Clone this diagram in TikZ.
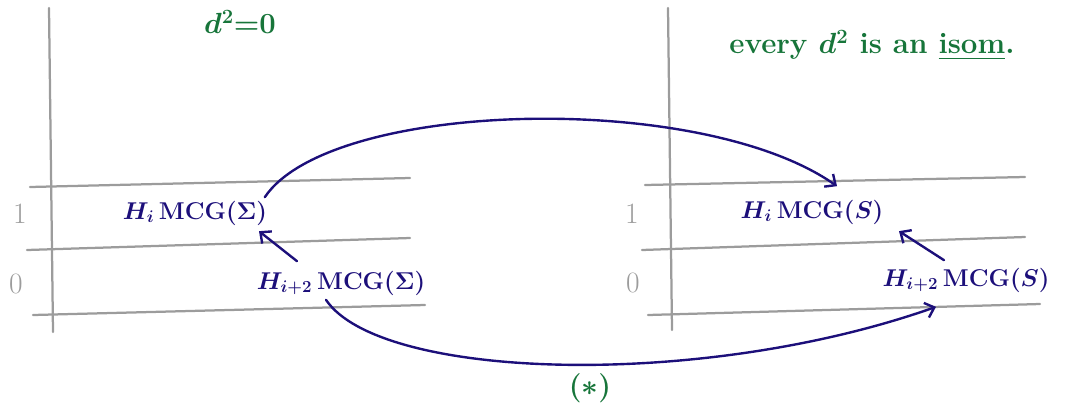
\documentclass[tikz,border=0pt]{standalone}
\usepackage{amsmath, amssymb}
\usepackage{xcolor}
\usetikzlibrary{arrows.meta, positioning, calc}

\definecolor{inkblue}{HTML}{1C0F7A}
\definecolor{inkgreen}{HTML}{17753A}
\definecolor{gridgray}{HTML}{9C9C9C}

\begin{document}
\begin{tikzpicture}[x=0.025cm, y=-0.025cm,
		gridline/.style={gridgray, line width=1.6pt, line cap=round},
		ink/.style={inkblue, line width=1.7pt, line cap=round},
		inktext/.style={inkblue, font=\fontsize{17.5}{21}\selectfont\boldmath, inner sep=1pt},
		note/.style={inkgreen, font=\fontsize{21}{24}\selectfont\bfseries\boldmath},
		degree/.style={gridgray, font=\fontsize{21}{24}\selectfont},
		barb/.style={-{Straight Barb[length=6pt, width=11pt]}}]
		\useasboundingbox (0,0) rectangle (1065,410);
		
		% Left page: E_2 page for Sigma
		\draw[gridline] (49,8) -- (53,332);
		\draw[gridline] (30,187) -- (410,178);
		\draw[gridline] (27,250) -- (410,238);
		\draw[gridline] (33,315) -- (425,305);
		\node[degree] (oneL) at (20,214) {1};
		\node[degree] (zeroL) at (16,284) {0};
		
		% Right page: E_2 page for S
		\draw[gridline] (668,8) -- (672,330);
		\draw[gridline] (645,185) -- (1025,177);
		\draw[gridline] (642,250) -- (1025,237);
		\draw[gridline] (648,315) -- (1040,304);
		\node[degree] (oneR) at (632,214) {1};
		\node[degree] (zeroR) at (633,283) {0};
		
		% Groups
		\node[inktext] (hSig) at (195,213) {$H_i\,\mathrm{MCG}(\Sigma)$};
		\node[inktext] (hhSig) at (341,283) {$H_{i+2}\,\mathrm{MCG}(\Sigma)$};
		\node[inktext] (hS) at (812,212) {$H_i\,\mathrm{MCG}(S)$};
		\node[inktext] (hhS) at (966,280) {$H_{i+2}\,\mathrm{MCG}(S)$};
		
		% Differentials
		\draw[ink, barb] (hhSig.north) ++(-44,-8) coordinate (dSigA) -- ++(-38,-30);
		\draw[ink, barb] (hhS.north) ++(-22,-6) coordinate (dSA) -- ++(-45,-29);
		
		% Comparison maps
		\draw[ink, barb] (hSig.north east) ++(-4,-2)
		.. controls (330,100) and (700,90) .. ($(hS.north)+(25,-12)$);
		\draw[ink, barb] (hhSig.south) ++(-15,3)
		.. controls (380,380) and (700,390) .. ($(hhS.south)+(-30,13)$);
		
		% Notes
		\node[note] (dzero) at (240,22) {$d^2{=}0$};
		\node[note] (isom) at (872,45) {every $d^2$ is an \underline{isom}.};
		\node[note] (star) at (590,388) {$(\ast)$};
	\end{tikzpicture}
\end{document}
